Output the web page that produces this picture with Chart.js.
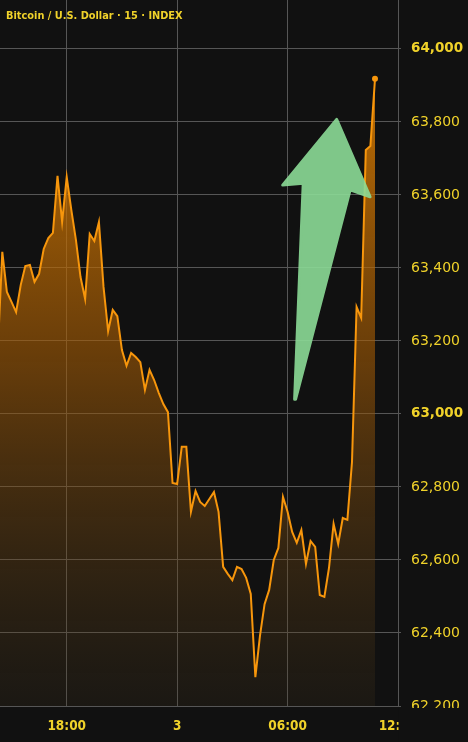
<!DOCTYPE html>
<html>
<head>
<meta charset="utf-8">
<title>Bitcoin / U.S. Dollar</title>
<style>
  html, body { margin: 0; padding: 0; background: #111111; }
  #wrap { position: relative; width: 468px; height: 742px; overflow: hidden; }
  /* Chart.js keeps 4px left and top of the plot for the end dot; shift the canvas so the plot touches the edges */
  #chart { position: absolute; left: -4px; top: -4px; }
  #title {
    position: absolute; left: 6px; top: 10px;
    font: bold 9.8px "DejaVu Sans", sans-serif;
    color: #f0d22a; white-space: nowrap;
  }
</style>
</head>
<body>
<div id="wrap">
  <canvas id="chart" width="472" height="746"></canvas>
  <div id="title">Bitcoin / U.S. Dollar · 15 · INDEX</div>
</div>
<script src="https://cdn.jsdelivr.net/npm/chart.js"></script>
<script>
// 15 minute bars, first one at 14:15 on the 2nd (minutes counted from midnight of the 3rd)
const startMinute = -585;
const stepMinutes = 15;
const prices = [
  63170, 63444, 63334, 63307, 63279, 63353, 63405, 63408, 63362, 63384,
  63452, 63482, 63496, 63652, 63526, 63649, 63559, 63477, 63375, 63315,
  63493, 63474, 63526, 63348, 63227, 63285, 63268, 63175, 63132, 63167,
  63156, 63142, 63066, 63121, 63093, 63058, 63027, 63005, 62811, 62808,
  62910, 62910, 62732, 62789, 62759, 62748, 62767, 62786, 62732, 62581,
  62562, 62545, 62581, 62575, 62551, 62507, 62279, 62392, 62479, 62518,
  62600, 62633, 62773, 62732, 62677, 62647, 62682, 62589, 62652, 62636,
  62504, 62499, 62578, 62699, 62644, 62715, 62710, 62868, 63293, 63263,
  63723, 63734, 63918
];

const xTickValues = [-360, 0, 360, 720];
const xTickLabels = ["18:00", "3", "06:00", "12:00"];
const yTickValues = [62200, 62400, 62600, 62800, 63000, 63200, 63400, 63600, 63800, 64000];

// green arrow drawn on the chart, vertices in (minutes, price)
const arrowX = [520, 629, 564, 386, 383, 411, 344];
const arrowY = [63807, 63595, 63614, 63040, 63040, 63632, 63627];

const points = prices.map((p, i) => ({ x: startMinute + i * stepMinutes, y: p }));

const yellow = "#f0d22a";
const gridColor = "#565656";

const arrowPlugin = {
  id: "arrow",
  afterDatasetsDraw(chart) {
    const { ctx, scales } = chart;
    // draw it opaque on a scratch canvas, then lay it on with a bit of transparency
    const off = document.createElement("canvas");
    off.width = chart.width;
    off.height = chart.height;
    const o = off.getContext("2d");
    o.beginPath();
    arrowX.forEach((v, i) => {
      const px = scales.x.getPixelForValue(v);
      const py = scales.y.getPixelForValue(arrowY[i]);
      if (i === 0) o.moveTo(px, py); else o.lineTo(px, py);
    });
    o.closePath();
    o.fillStyle = "rgb(140,220,151)";
    o.strokeStyle = "rgb(140,220,151)";
    o.lineJoin = "round";
    o.lineWidth = 3;
    o.fill();
    o.stroke();
    ctx.save();
    ctx.globalAlpha = 0.9;
    ctx.drawImage(off, 0, 0);
    ctx.restore();
  }
};

// the price scale column hides whatever falls under the bottom axis
const coverPlugin = {
  id: "cover",
  afterDraw(chart) {
    const { ctx, chartArea } = chart;
    ctx.save();
    ctx.fillStyle = "#111111";
    ctx.fillRect(chartArea.right + 0.5, chartArea.bottom + 2, chart.width, chart.height);
    ctx.restore();
  }
};

function noPadding(scale) {
  scale.paddingTop = 0;
  scale.paddingBottom = 0;
  scale.paddingLeft = 0;
  scale.paddingRight = 0;
}

new Chart(document.getElementById("chart"), {
  type: "line",
  data: {
    datasets: [
      {
        data: points,
        borderColor: "#f7960c",
        borderWidth: 2,
        tension: 0,
        fill: "start",
        backgroundColor: function (context) {
          const { ctx, chartArea } = context.chart;
          if (!chartArea) return "rgba(235,135,0,0.5)";
          const g = ctx.createLinearGradient(0, chartArea.top, 0, chartArea.bottom);
          g.addColorStop(0, "rgba(240,138,0,0.93)");
          g.addColorStop(0.5, "rgba(165,92,5,0.6)");
          g.addColorStop(1, "rgba(70,55,30,0.2)");
          return g;
        },
        pointRadius: (ctx) => (ctx.dataIndex === prices.length - 1 ? 3 : 0),
        pointBackgroundColor: "#f7960c",
        pointBorderWidth: 0,
      },
    ],
  },
  options: {
    responsive: false,
    animation: false,
    devicePixelRatio: 1,
    layout: { padding: 0 },
    plugins: {
      legend: { display: false },
      tooltip: { enabled: false },
    },
    scales: {
      x: {
        type: "linear",
        min: -577.5,
        max: 720,
        afterBuildTicks: (scale) => {
          scale.ticks = xTickValues.map((v) => ({ value: v }));
        },
        afterFit: (scale) => {
          scale.height = 36;
          noPadding(scale);
        },
        grid: { color: gridColor, drawTicks: false },
        border: { color: gridColor },
        ticks: {
          color: yellow,
          padding: 12,
          maxRotation: 0,
          autoSkip: false,
          font: { family: "DejaVu Sans Condensed", weight: "bold", size: 13.5 },
          callback: (v) => xTickLabels[xTickValues.indexOf(v)],
        },
      },
      y: {
        position: "right",
        min: 62200,
        max: 64134,
        afterBuildTicks: (scale) => {
          scale.ticks = yTickValues.map((v) => ({ value: v }));
        },
        afterFit: (scale) => {
          scale.width = 70;
          noPadding(scale);
        },
        grid: { color: gridColor, tickLength: 3 },
        border: { color: gridColor },
        ticks: {
          color: yellow,
          padding: 10,
          font: (ctx) =>
            ctx.tick && ctx.tick.value % 1000 === 0
              ? { family: "DejaVu Sans", weight: "bold", size: 13.5 }
              : { family: "DejaVu Sans", weight: "normal", size: 14 },
          callback: (v) => v.toLocaleString("en-US"),
        },
      },
    },
  },
  plugins: [arrowPlugin, coverPlugin],
});
</script>
</body>
</html>
